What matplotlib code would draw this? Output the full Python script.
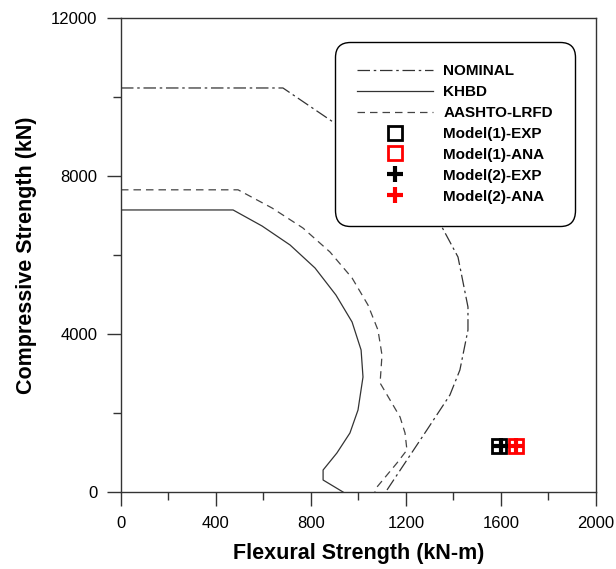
import matplotlib
matplotlib.use("Agg")
import matplotlib.pyplot as plt

plt.rcParams['font.family'] = ['Liberation Sans', 'DejaVu Sans']

# --- Interaction curves (x: kN-m, y: kN) ---
nominal_x = [0, 682, 893, 994, 1112, 1229, 1331, 1419, 1461, 1461, 1427, 1385, 1288, 1204, 1120, 1112]
nominal_y = [10228, 10228, 9367, 8987, 8329, 7722, 6937, 5949, 4684, 4101, 3089, 2456, 1570, 810, 51, 0]

khbd_x = [0, 472, 594, 712, 817, 905, 973, 1011, 1019, 998, 964, 909, 851, 851, 935]
khbd_y = [7140, 7140, 6734, 6253, 5671, 4987, 4304, 3595, 2911, 2076, 1494, 987, 557, 304, 0]

aashto_x = [0, 493, 636, 766, 880, 973, 1040, 1082, 1099, 1091, 1133, 1175, 1196, 1204, 1162, 1078, 1069]
aashto_y = [7650, 7650, 7190, 6684, 6076, 5418, 4734, 4101, 3468, 2759, 2329, 1899, 1494, 1063, 734, 127, 0]

# --- Test / analysis points ---
m1_exp = (1592, 1165)
m1_ana = (1663, 1165)
m2_exp = (1600, 1165)
m2_ana = (1663, 1165)

fig = plt.figure(figsize=(6.16, 5.69), dpi=100)
ax = fig.add_axes([0.1964, 0.1353, 0.7711, 0.8331])

line_col = '#333333'
ax.plot(nominal_x, nominal_y, color=line_col, linewidth=0.9,
        dashes=(10, 3, 2, 3), label='NOMINAL')
ax.plot(khbd_x, khbd_y, color=line_col, linewidth=0.9, label='KHBD')
ax.plot(aashto_x, aashto_y, color='#444444', linewidth=0.9,
        dashes=(6, 4), label='AASHTO-LRFD')

ax.plot(*m1_exp, linestyle='none', marker='s', markersize=10,
        markerfacecolor='none', markeredgecolor='black', markeredgewidth=2,
        label='Model(1)-EXP')
ax.plot(*m1_ana, linestyle='none', marker='s', markersize=10,
        markerfacecolor='none', markeredgecolor='red', markeredgewidth=2,
        label='Model(1)-ANA')
ax.plot(*m2_exp, linestyle='none', marker='+', markersize=11,
        color='black', markeredgewidth=3, label='Model(2)-EXP')
ax.plot(*m2_ana, linestyle='none', marker='+', markersize=11,
        color='red', markeredgewidth=3, label='Model(2)-ANA')

ax.set_xlim(0, 2000)
ax.set_ylim(0, 12000)
ax.set_xticks([0, 400, 800, 1200, 1600, 2000])
ax.set_xticks(range(200, 2000, 400), minor=True)
ax.set_yticks([0, 4000, 8000, 12000])
ax.set_yticks([2000, 6000, 10000], minor=True)
ax.tick_params(axis='both', which='major', direction='out', length=10,
               width=1, labelsize=12, color='#333333', pad=7)
ax.tick_params(axis='both', which='minor', direction='out', length=6,
               width=1, color='#333333')
ax.tick_params(top=False, right=False, which='both')
for s in ax.spines.values():
    s.set_color('#333333')
    s.set_linewidth(1)

ax.set_xlabel('Flexural Strength (kN-m)', fontsize=15.5, fontweight='bold', labelpad=9)
ax.set_ylabel('Compressive Strength (kN)', fontsize=15.5, fontweight='bold', labelpad=10)

leg = ax.legend(loc='upper right', bbox_to_anchor=(0.956, 0.949),
                prop={'weight': 'bold', 'size': 11},
                handlelength=5.0, labelspacing=0.45, borderpad=1.45,
                borderaxespad=0, fancybox=True, framealpha=1,
                edgecolor='black', handletextpad=0.65)
leg.get_frame().set_linewidth(1)
leg.get_frame().set_boxstyle('round,pad=0,rounding_size=1.0')

plt.savefig('out.png', dpi=100)
